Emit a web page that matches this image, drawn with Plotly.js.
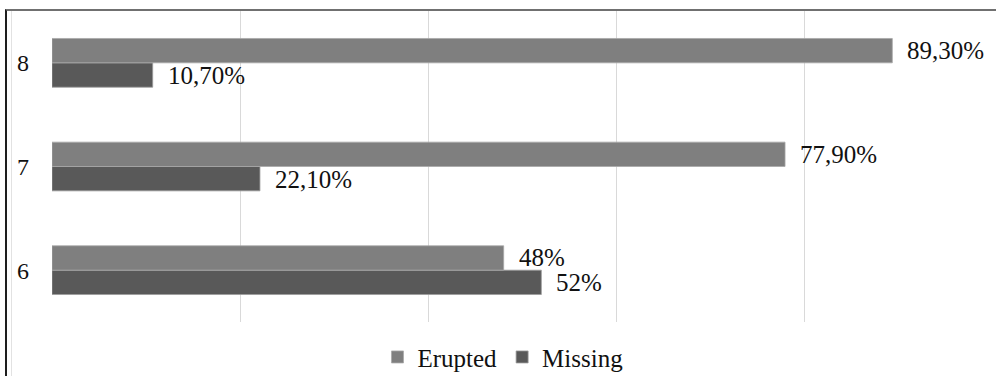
<!DOCTYPE html>
<html>
<head>
<meta charset="utf-8">
<script src="https://cdn.plot.ly/plotly-3.0.1.min.js"></script>
<style>
  html, body { margin: 0; padding: 0; background: #fff; }
  #wrap { position: relative; width: 996px; height: 376px; overflow: hidden; }
  #chart { position: absolute; left: 0; top: 0; width: 996px; height: 376px; }
  #frame { position: absolute; left: 5px; top: 9px; width: 995px; height: 370px;
           border-top: 2px solid #707070; border-left: 2px solid #1e1e1e; pointer-events: none; }
  #inner { position: absolute; left: 11px; top: 11px; width: 1px; height: 370px;
           background: #e2e2e2; pointer-events: none; }
</style>
</head>
<body>
<div id="wrap">
  <div id="chart"></div>
  <div id="inner"></div>
  <div id="frame"></div>
</div>
<script>
// Data
const categories = ['6', '7', '8'];
const eruptedValues = [48, 77.9, 89.3];
const missingValues = [52, 22.1, 10.7];
const eruptedLabels = ['48%', '77,90%', '89,30%'];
const missingLabels = ['52%', '22,10%', '10,70%'];
const seriesNames = ['Erupted', 'Missing'];

const FONT = '"Liberation Serif", "Times New Roman", serif';

const traces = [
  {
    type: 'bar', orientation: 'h', name: seriesNames[1],
    y: categories, x: missingValues,
    marker: { color: '#595959', line: { color: '#9a9a9a', width: 0.8 } },
    hoverinfo: 'none'
  },
  {
    type: 'bar', orientation: 'h', name: seriesNames[0],
    y: categories, x: eruptedValues,
    marker: { color: '#7f7f7f', line: { color: '#a8a8a8', width: 0.8 } },
    hoverinfo: 'none'
  }
];

const annotations = [];
categories.forEach((c, i) => {
  annotations.push({
    x: eruptedValues[i], y: i, xref: 'x', yref: 'y',
    text: eruptedLabels[i], showarrow: false, xanchor: 'left', yanchor: 'middle',
    xshift: 13, yshift: 12.5, font: { family: FONT, size: 25, color: '#111' }
  });
  annotations.push({
    x: missingValues[i], y: i, xref: 'x', yref: 'y',
    text: missingLabels[i], showarrow: false, xanchor: 'left', yanchor: 'middle',
    xshift: 13, yshift: -12.5, font: { family: FONT, size: 25, color: '#111' }
  });
});

const layout = {
  width: 996, height: 376,
  margin: { l: 52, r: 3, t: 11, b: 54, pad: 0 },
  paper_bgcolor: '#ffffff', plot_bgcolor: '#ffffff',
  barmode: 'group', bargap: 0.53, bargroupgap: 0,
  showlegend: true,
  legend: {
    orientation: 'h', traceorder: 'reversed',
    xref: 'container', yref: 'container',
    x: 0.505, xanchor: 'center', y: 0.05, yanchor: 'middle',
    font: { family: FONT, size: 25, color: '#111' },
    itemwidth: 30
  },
  xaxis: {
    range: [0, 100], dtick: 20, tick0: 0,
    showticklabels: false, showgrid: true, gridcolor: '#d9d9d9', gridwidth: 1,
    zeroline: false, showline: false, ticks: '', fixedrange: true
  },
  yaxis: {
    type: 'category', categoryorder: 'array', categoryarray: categories,
    range: [-0.5, 2.5], showgrid: false, zeroline: false, showline: false,
    ticks: '', ticklabelstandoff: 22,
    tickfont: { family: FONT, size: 24, color: '#111' }, fixedrange: true
  },
  annotations: annotations
};

Plotly.newPlot('chart', traces, layout, { displayModeBar: false, staticPlot: true });
</script>
</body>
</html>
